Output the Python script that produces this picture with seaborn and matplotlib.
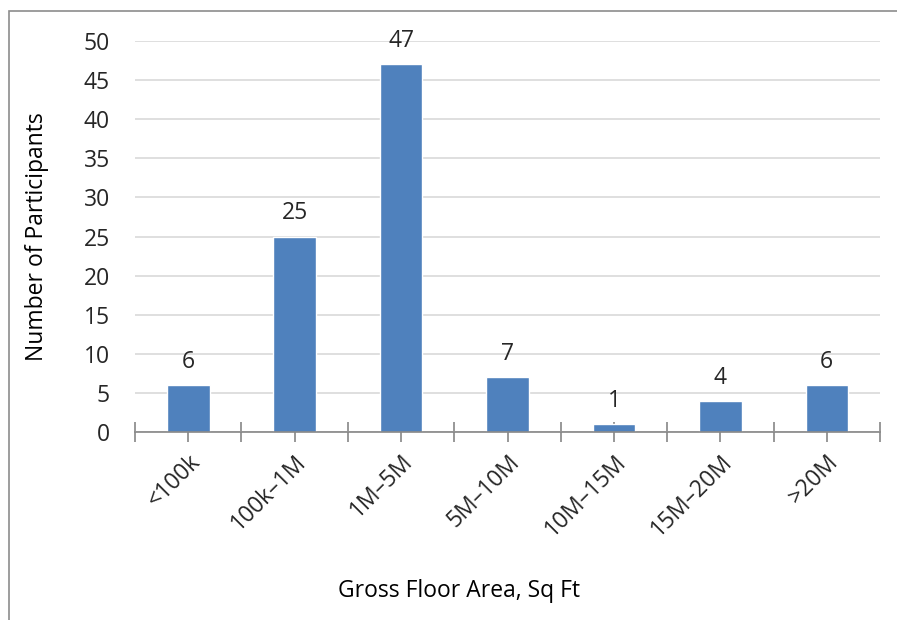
import matplotlib
matplotlib.use("Agg")
import matplotlib.pyplot as plt
import seaborn as sns
import pandas as pd
from matplotlib.patches import Rectangle

categories = ["<100k", "100k\u20131M", "1M\u20135M", "5M\u201310M", "10M\u201315M", "15M\u201320M", ">20M"]
participants = [6, 25, 47, 7, 1, 4, 6]

df = pd.DataFrame({"area": categories, "count": participants})

sns.set_style("white")
plt.rcParams["font.family"] = ["Open Sans", "DejaVu Sans"]

fig = plt.figure(figsize=(8.97, 6.2), dpi=100)
ax = fig.add_axes([135 / 897, 1 - 432 / 620, (880 - 135) / 897, (432 - 41) / 620])

sns.barplot(data=df, x="area", y="count", color="#4f81bd", width=0.4, saturation=1, ax=ax)

for i, v in enumerate(participants):
    ax.annotate(str(v), (i, v), xytext=(0, 8), textcoords="offset points",
                ha="center", va="bottom", fontsize=16.5, color="#262626")

ax.set_xlim(-0.5, len(categories) - 0.5)
ax.set_ylim(0, 50)
ax.set_yticks(range(0, 51, 5))
ax.yaxis.grid(True, color="#d9d9d9", linewidth=1.2)
ax.set_axisbelow(True)
for s in ["top", "right", "left"]:
    ax.spines[s].set_visible(False)
ax.spines["bottom"].set_color("#868686")
ax.spines["bottom"].set_linewidth(1.2)

# ticks at category boundaries and centres, labels only at centres
positions = [k / 2 - 0.5 for k in range(2 * len(categories) + 1)]
labels = ["" if k % 2 == 0 else categories[k // 2] for k in range(2 * len(categories) + 1)]
ax.set_xticks(positions, labels=labels)
ax.tick_params(axis="x", bottom=True, direction="inout", length=14, width=1.2, color="#868686",
               labelsize=16.5, labelcolor="#262626", pad=6)
for lbl in ax.get_xticklabels():
    lbl.set_rotation(45)
    lbl.set_ha("right")
    lbl.set_rotation_mode("anchor")
ax.tick_params(axis="y", length=0, labelsize=16.5, labelcolor="#262626", pad=18)

ax.set_xlabel("Gross Floor Area, Sq Ft", fontsize=16.5, color="#000000")
ax.set_ylabel("Number of Participants", fontsize=16.5, color="#000000")
ax.xaxis.set_label_coords(0.435, -0.375)
ax.yaxis.set_label_coords(-0.115, 0.5)

fig.patches.append(Rectangle((9 / 897, -0.1), 1.2, 1 - 11 / 620 + 0.1, transform=fig.transFigure,
                             fill=False, edgecolor="#8c8c8c", linewidth=1.2))

fig.savefig("out.png", dpi=100)
